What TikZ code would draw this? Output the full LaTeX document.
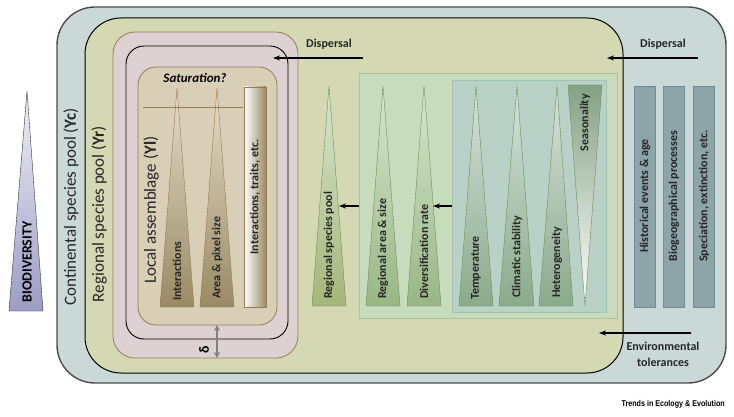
\documentclass[tikz,border=0pt]{standalone}
\usepackage{fontspec}
\setmainfont{Carlito}
\newfontfamily\trendsfont[FakeStretch=0.85]{Liberation Sans}
\usetikzlibrary{arrows.meta}

\definecolor{contfill}{HTML}{CAD9D8}
\definecolor{regfill}{HTML}{D4D9B3}
\definecolor{pinkfill}{HTML}{DDD1D4}
\definecolor{localfill}{HTML}{D8CFB6}
\definecolor{brownline}{HTML}{9B7A50}
\definecolor{tanlight}{HTML}{E6DDC8}
\definecolor{tandark}{HTML}{9A8A64}
\definecolor{greenbox}{HTML}{C7DBBD}
\definecolor{greenline}{HTML}{A9C69C}
\definecolor{tealbox}{HTML}{B9D1C7}
\definecolor{tealline}{HTML}{A4C2B2}
\definecolor{greenedge}{HTML}{6B8F55}
\definecolor{olive}{HTML}{A5B678}
\definecolor{leaf}{HTML}{98B784}
\definecolor{sage}{HTML}{8BAA8B}
\definecolor{steel}{HTML}{8DA4A9}
\definecolor{steelline}{HTML}{6F8C93}
\definecolor{lavender}{HTML}{9C9CC6}

\begin{document}
\begin{tikzpicture}[x=1pt, y=-1pt,
    lbl/.style={font=\bfseries\fontsize{12}{16}\selectfont, inner sep=0pt, text=black!85},
    vlbl/.style={lbl, rotate=90, anchor=west},
    poollbl/.style={font=\fontsize{17}{18}\selectfont, rotate=90, inner sep=0pt, text=black!85},
    arr/.style={-{Stealth[length=7pt, width=5pt]}, line width=1.1pt},
    browntri/.style={top color=tanlight, middle color=white, bottom color=tandark, draw=brownline},
    greentri/.style={top color=greenbox!70!white, middle color=white, draw=greenedge}]
    \useasboundingbox (0,0) rectangle (734,417);

    % pools
    \draw[line width=1.4pt, draw=black!70, fill=contfill, rounded corners=38pt] (57,7) rectangle (726,383);
    \draw[line width=1pt, fill=regfill, rounded corners=36pt] (85,18) rectangle (623,373);
    \draw[line width=0.8pt, draw=brownline, fill=pinkfill, rounded corners=22pt] (113,32) rectangle (298,358);
    \draw[line width=0.9pt, rounded corners=18pt] (126,46) rectangle (288,339);
    \draw[line width=0.8pt, draw=brownline, fill=localfill, rounded corners=18pt] (138,67) rectangle (277,325);

    % biodiversity
    \shade[top color=white!85!lavender, bottom color=lavender, draw=black!80] (27,91) -- (43,311) -- (9,311) -- cycle;
    \node[font=\bfseries\fontsize{14}{15}\selectfont, rotate=90, inner sep=0pt] (biodlbl) at (27,262) {BIODIVERSITY};

    % pool labels
    \node[poollbl] (contlbl) at (71,207) {Continental species pool (\textbf{Yc})};
    \node[poollbl] (reglbl) at (99,214) {Regional species pool (\textbf{Yr})};
    \node[poollbl] (loclbl) at (151,210) {Local assemblage (\textbf{Yl})};

    % local assemblage
    \shade[browntri] (177,88) -- (194,307) -- (160,307) -- cycle;
    \shade[browntri] (217,88) -- (234,307) -- (200,307) -- cycle;
    \shade[left color=white, right color=tandark, draw=brownline] (244,87) rectangle (266,307);
    \draw[brownline, line width=0.8pt] (143,107) -- (243,107);
    \node[font=\bfseries\itshape\fontsize{13}{14}\selectfont, inner sep=0pt] (satlbl) at (195,78) {Saturation?};
    \node[vlbl] (interlbl) at (177,301) {Interactions};
    \node[vlbl] (arealbl) at (217,299) {Area \& pixel size};
    \node[lbl, rotate=90] (traitlbl) at (255,197) {Interactions, traits, etc.};

    % delta
    \coordinate (dtop) at (217,325);
    \coordinate (dbot) at (217,358);
    \draw[{Stealth[length=6pt, width=6pt]}-{Stealth[length=6pt, width=6pt]}, line width=1.3pt, black!50] (dtop) -- (dbot);
    \node[rotate=90, font=\bfseries\fontsize{14}{15}\selectfont, inner sep=0pt] (deltalbl) at (204,350) {δ};

    % regional drivers
    \draw[greenline, fill=greenbox] (359,73) rectangle (617,318);
    \draw[tealline, fill=tealbox] (452,80) rectangle (606,312);
    \shade[greentri, bottom color=olive] (329,86) -- (346,306) -- (312,306) -- cycle;
    \shade[greentri, bottom color=leaf] (383,86) -- (400,306) -- (366,306) -- cycle;
    \shade[greentri, bottom color=leaf] (424,86) -- (441,306) -- (407,306) -- cycle;
    \shade[greentri, top color=tealbox!60!white, bottom color=sage] (476,86) -- (493,306) -- (459,306) -- cycle;
    \shade[greentri, top color=tealbox!60!white, bottom color=sage] (517,86) -- (534,306) -- (499,306) -- cycle;
    \shade[greentri, top color=tealbox!60!white, bottom color=sage] (557,86) -- (573,306) -- (539,306) -- cycle;
    \shade[top color=sage!95!black, middle color=tealbox!50!white, bottom color=white, draw=greenedge] (568,85) -- (602,85) -- (585,306) -- cycle;
    \node[vlbl] (rsplbl) at (329,299) {Regional species pool};
    \node[vlbl] (ralbl) at (383,299) {Regional area \& size};
    \node[vlbl] (divlbl) at (424,299) {Diversification rate};
    \node[vlbl] (templbl) at (476,300) {Temperature};
    \node[vlbl] (climlbl) at (517,298) {Climatic stability};
    \node[vlbl] (hetlbl) at (557,298) {Heterogeneity};
    \node[lbl, rotate=90, anchor=east] (seaslbl) at (585,94) {Seasonality};
    \coordinate (greenw) at (359,206);
    \coordinate (rsptip) at (339,206);
    \coordinate (tealw) at (452,206);
    \coordinate (divtip) at (433,206);
    \draw[arr] (greenw) -- (rsptip);
    \draw[arr] (tealw) -- (divtip);

    % continental drivers
    \draw[steelline, fill=steel] (634,86) rectangle (655,307);
    \draw[steelline, fill=steel] (663,86) rectangle (684,307);
    \draw[steelline, fill=steel] (693,86) rectangle (714,307);
    \node[lbl, rotate=90] (histlbl) at (645,196) {Historical events \& age};
    \node[lbl, rotate=90] (biolbl) at (674,196) {Biogeographical processes};
    \node[lbl, rotate=90] (speclbl) at (704,196) {Speciation, extinction, etc.};

    % dispersal and tolerances
    \node[lbl] (displ) at (329,44) {Dispersal};
    \node[lbl] (dispr) at (663,44) {Dispersal};
    \node[lbl, align=center] (envlbl) at (663,354) {Environmental\\tolerances};
    \coordinate (displs) at (363,58);
    \coordinate (displt) at (273,58);
    \coordinate (disprs) at (698,58);
    \coordinate (disprt) at (607,58);
    \coordinate (envs) at (691,333);
    \coordinate (envt) at (599,333);
    \draw[arr] (displs) -- (displt);
    \draw[arr] (disprs) -- (disprt);
    \draw[arr] (envs) -- (envt);

    \node[font=\trendsfont\bfseries\fontsize{8.4}{9}\selectfont, anchor=east, inner sep=0pt] (trends) at (725,404) {Trends in Ecology \& Evolution};
\end{tikzpicture}
\end{document}
